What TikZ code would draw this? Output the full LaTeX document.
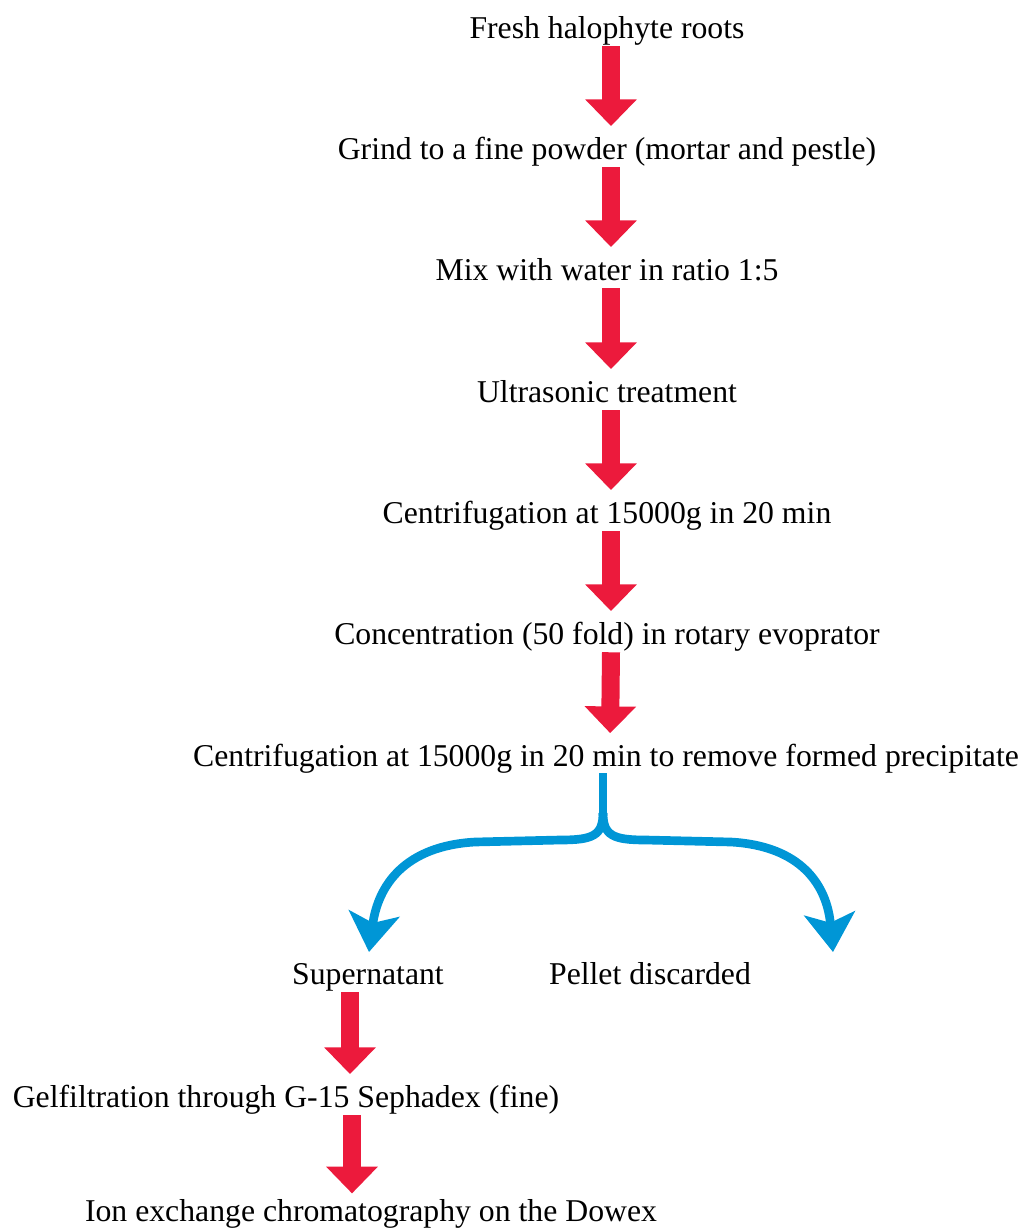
\documentclass[tikz,border=0pt]{standalone}
\usepackage{fontspec}
\setmainfont{Liberation Serif}
\usetikzlibrary{arrows.meta}
\definecolor{stepred}{RGB}{236,26,60}
\definecolor{splitblue}{RGB}{0,150,214}
\begin{document}
\begin{tikzpicture}[x=0.75pt, y=-0.75pt]
    % Define styles
    \tikzset{
        steptext/.style={inner sep=0pt, anchor=base, text height=16.5pt, text depth=6pt, font=\fontsize{23.8pt}{28pt}\selectfont},
        redarrow/.style={draw=stepred, line width=13.5pt, -{Triangle[width=37.5pt, length=20pt]}, shorten >=8pt},
        bluearrow/.style={draw=splitblue, line width=6.5pt, -{Stealth[width=38pt, length=29pt, inset=7pt]}}
    }
    \useasboundingbox (0,0) rectangle (1027,1229);

    % Main column
    \node[steptext] (s1) at (607,38) {Fresh halophyte roots};
    \node[steptext] (s2) at (607,159) {Grind to a fine powder (mortar and pestle)};
    \node[steptext] (s3) at (607,280) {Mix with water in ratio 1:5};
    \node[steptext] (s4) at (607,402) {Ultrasonic treatment};
    \node[steptext] (s5) at (607,523) {Centrifugation at 15000g in 20 min};
    \node[steptext] (s6) at (607,644) {Concentration (50 fold) in rotary evoprator};
    \node[steptext] (s7) at (606,766) {Centrifugation at 15000g in 20 min to remove formed precipitate};

    % Split products
    \node[steptext] (sup) at (368,984) {Supernatant};
    \node[steptext] (pel) at (650,984) {Pellet discarded};

    % Lower column
    \node[steptext] (gel) at (286,1107) {Gelfiltration through G-15 Sephadex (fine)};
    \node[steptext] (ion) at (371,1221) {Ion exchange chromatography on the Dowex};

    % Red arrows
    \foreach \a/\b in {s1/s2, s2/s3, s3/s4, s4/s5, s5/s6, s6/s7} {
        \draw[redarrow] ([xshift=3pt]\a.south) -- ([xshift=3pt]\b.north);
    }
    \draw[redarrow] ([xshift=-13.5pt]sup.south) -- ([xshift=-13.5pt]sup.south |- gel.north);
    \draw[redarrow, shorten >=4pt] ([xshift=49.5pt]gel.south) -- ([xshift=49.5pt]gel.south |- ion.north);

    % Blue split
    \coordinate (split) at (603,813);
    \coordinate (lefttip) at (369,952);
    \coordinate (righttip) at (833,952);
    \draw[draw=splitblue, line width=6.5pt] (603,773) -- (split);
    \draw[bluearrow] (split) .. controls (603,836) and (592,840) .. (560,840)
        -- (475,842) .. controls (405,846) and (378,885) .. (lefttip);
    \draw[bluearrow] (split) .. controls (603,836) and (614,840) .. (646,840)
        -- (731,842) .. controls (801,846) and (827,885) .. (righttip);

\end{tikzpicture}
\end{document}
